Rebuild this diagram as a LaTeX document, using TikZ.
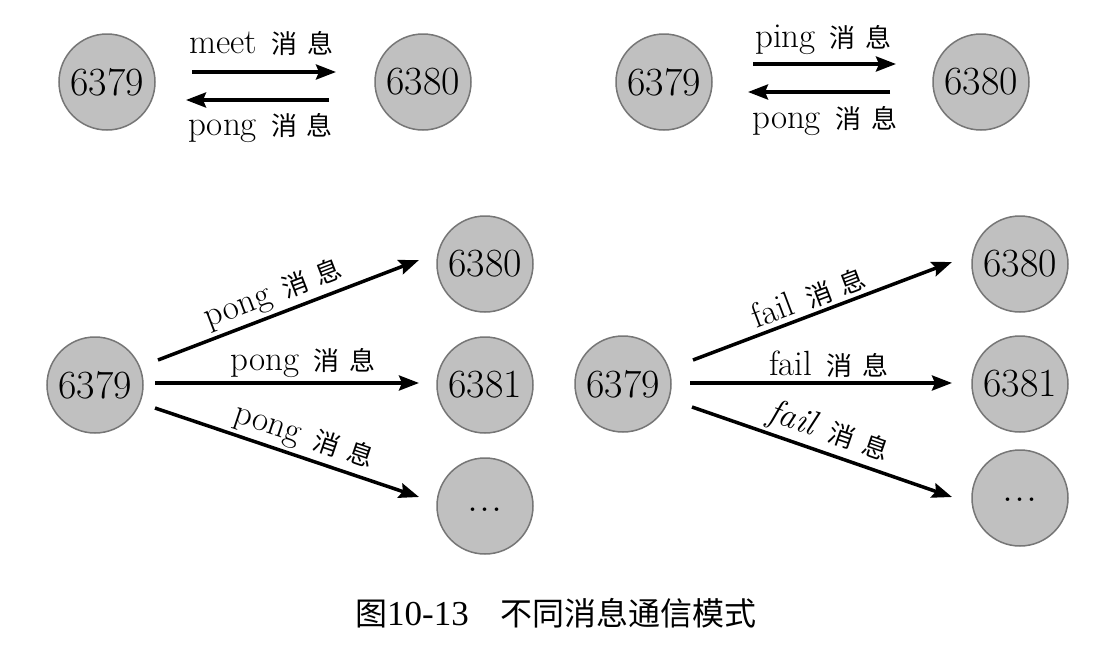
\documentclass[tikz,border=0pt]{standalone}
\usepackage{fontspec}
\newfontfamily\cjk{Noto Sans CJK SC}
\newfontfamily\capfont{Liberation Serif}
\usetikzlibrary{arrows.meta}
\definecolor{ndfill}{RGB}{192,192,192}
\definecolor{ndline}{RGB}{118,118,118}
\newcommand{\xiaoxi}{\hspace{14pt}{\cjk\fontsize{26}{26}\selectfont 消\hspace{10pt}息}}
\newcommand{\threedots}{{\fontsize{44}{44}\selectfont .\hspace{1pt}.\hspace{1pt}.}}
\begin{document}
\begin{tikzpicture}[x=1pt,y=-1pt,
  nd/.style={circle, draw=ndline, fill=ndfill, line width=1.5pt, minimum size=96pt, inner sep=0pt, font=\fontsize{40}{40}\selectfont},
  arr/.style={line width=3.5pt, -{Stealth[length=20pt,width=15pt,inset=3pt]}},
  lbl/.style={font=\fontsize{35}{35}\selectfont, inner sep=0pt}]
\useasboundingbox (0,0) rectangle (1104,646);
\fill[white] (0,0) rectangle (1104,646);
% top left
\node[nd] (a1) at (107,82) {6379};
\node[nd] (b1) at (423,82) {6380};
\coordinate (a1r) at (192,72); \coordinate (b1l) at (336,72);
\coordinate (b1r) at (329,100); \coordinate (a1l) at (186,100);
\draw[arr] (a1r) -- (b1l);
\draw[arr] (b1r) -- (a1l);
\node[lbl, anchor=base west] (t1) at (189,53) {meet\xiaoxi};
\node[lbl, anchor=base west] (t2) at (188,135) {pong\xiaoxi};
% top right
\node[nd] (a2) at (664,82) {6379};
\node[nd] (b2) at (981,82) {6380};
\coordinate (a2r) at (753,64); \coordinate (b2l) at (896,64);
\coordinate (b2r) at (890,92); \coordinate (a2l) at (748,92);
\draw[arr] (a2r) -- (b2l);
\draw[arr] (b2r) -- (a2l);
\node[lbl, anchor=base west] (t3) at (755,47) {ping\xiaoxi};
\node[lbl, anchor=base west] (t4) at (752,128) {pong\xiaoxi};
% bottom left
\node[nd] (a3) at (95,385) {6379};
\node[nd] (c1) at (485,264) {6380};
\node[nd] (c2) at (485,385) {6381};
\node[nd] (c3) at (485,506) {\raisebox{-10pt}{\threedots}};
\coordinate (s1) at (158,360); \coordinate (e1) at (419,260);
\coordinate (s2) at (155,383); \coordinate (e2) at (419,383);
\coordinate (s3) at (155,408); \coordinate (e3) at (419,497);
\draw[arr] (s1) -- node[lbl, sloped, pos=.47, above=3pt] (l1) {pong\xiaoxi} (e1);
\draw[arr] (s2) -- node[lbl, pos=.56, above=4pt] (l2) {pong\xiaoxi} (e2);
\draw[arr] (s3) -- node[lbl, sloped, pos=.54, above=3pt] (l3) {pong\xiaoxi} (e3);
% bottom right
\node[nd] (a4) at (623,384) {6379};
\node[nd] (d1) at (1020,264) {6380};
\node[nd] (d2) at (1020,384) {6381};
\node[nd] (d3) at (1020,498) {\raisebox{-7pt}{\threedots}};
\coordinate (u1) at (693,360); \coordinate (f1) at (952,262);
\coordinate (u2) at (690,383); \coordinate (f2) at (952,383);
\coordinate (u3) at (692,407); \coordinate (f3) at (952,497);
\draw[arr] (u1) -- node[lbl, sloped, pos=.47, above=3pt] (m1) {fail\xiaoxi} (f1);
\draw[arr] (u2) -- node[lbl, pos=.53, above=4pt] (m2) {fail\xiaoxi} (f2);
\draw[arr] (u3) -- node[lbl, sloped, pos=.5, above=3pt] (m3) {\textit{fail}\xiaoxi} (f3);
% caption
\node[inner sep=0pt, anchor=base] (cap) at (556,625) {{\cjk\fontsize{32}{32}\selectfont 图}{\capfont\fontsize{35}{35}\selectfont 10-13}{\cjk\fontsize{32}{32}\selectfont \hspace{1em}不同消息通信模式}};
\end{tikzpicture}
\end{document}
